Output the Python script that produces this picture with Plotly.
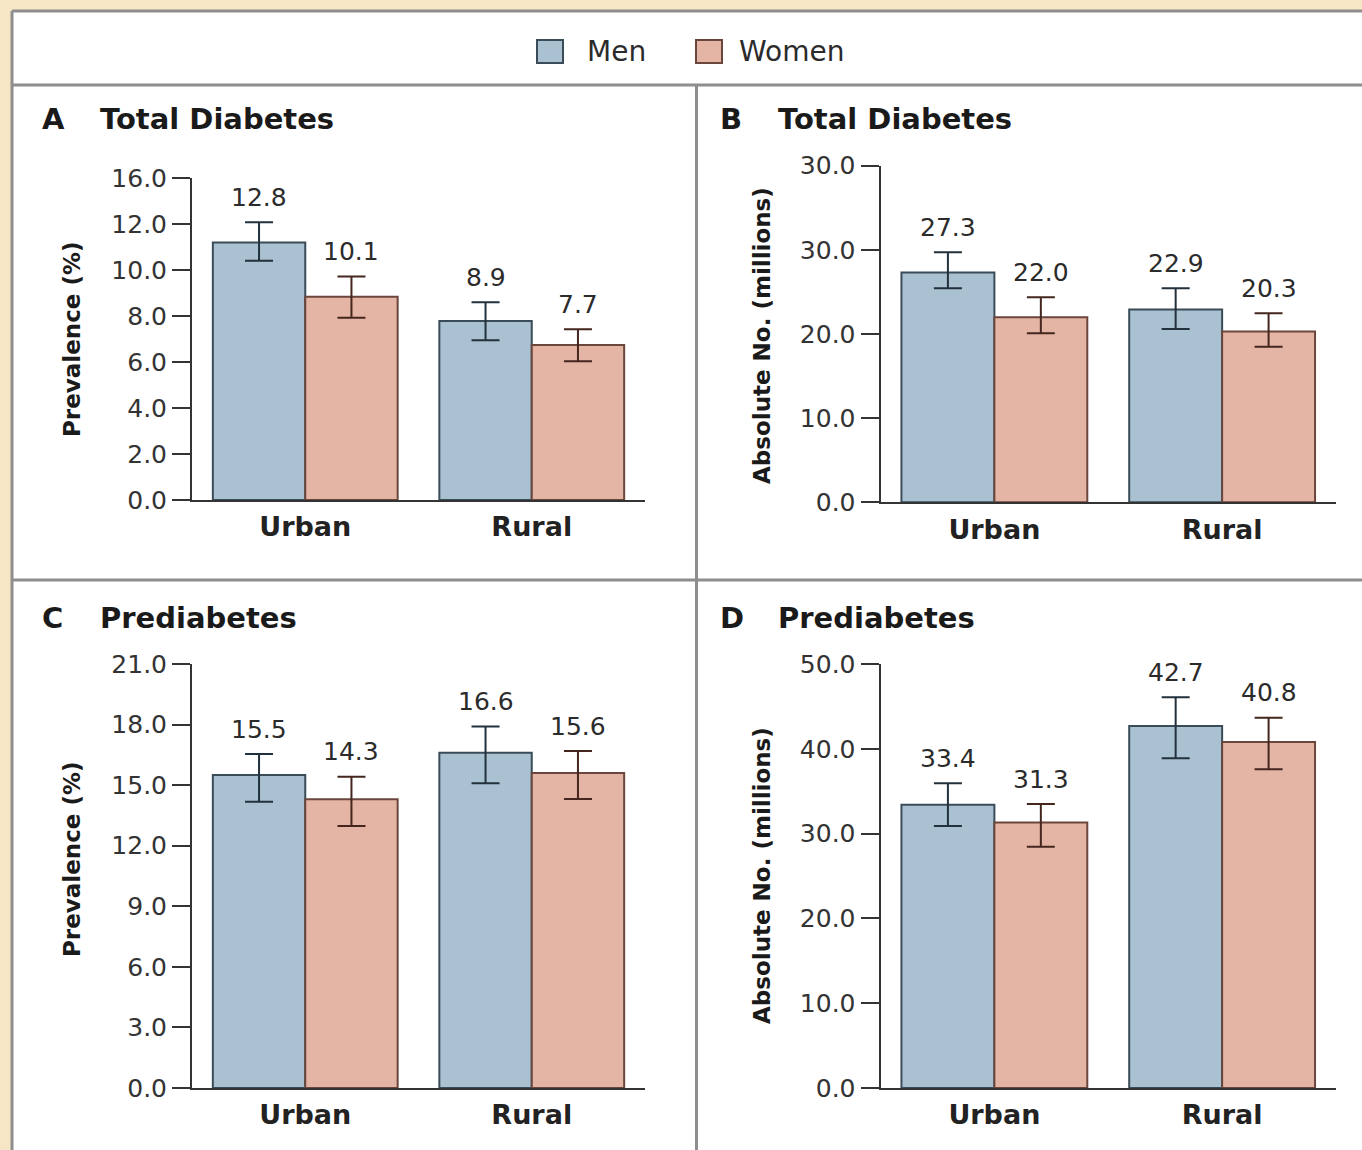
import numpy as np
import plotly.graph_objects as go

W, H = 1362, 1150

categories = ["Urban", "Rural"]
series = ["Men", "Women"]

# Panel A – Total diabetes, prevalence (%)
a_men = [12.8, 8.9]
a_women = [10.1, 7.7]
a_men_lo, a_men_hi = [11.89, 7.94], [13.80, 9.82]
a_women_lo, a_women_hi = [9.06, 6.90], [11.10, 8.48]
a_ymax = 16
a_ticktext = ["0.0", "2.0", "4.0", "6.0", "8.0", "10.0", "12.0", "16.0"]

# Panel B – Total diabetes, absolute number (millions)
b_men = [27.3, 22.9]
b_women = [22.0, 20.3]
b_men_lo, b_men_hi = [25.43, 20.60], [29.71, 25.43]
b_women_lo, b_women_hi = [20.08, 18.49], [24.36, 22.46]
b_ymax = 40
b_ticktext = ["0.0", "10.0", "20.0", "30.0", "30.0"]

# Panel C – Prediabetes, prevalence (%)
c_men = [15.5, 16.6]
c_women = [14.3, 15.6]
c_men_lo, c_men_hi = [14.18, 15.09], [16.54, 17.90]
c_women_lo, c_women_hi = [12.98, 14.31], [15.42, 16.69]
c_ymax = 21
c_ticktext = ["0.0", "3.0", "6.0", "9.0", "12.0", "15.0", "18.0", "21.0"]

# Panel D – Prediabetes, absolute number (millions)
d_men = [33.4, 42.7]
d_women = [31.3, 40.8]
d_men_lo, d_men_hi = [30.90, 38.88], [35.93, 46.07]
d_women_lo, d_women_hi = [28.46, 37.58], [33.49, 43.67]
d_ymax = 50
d_ticktext = ["0.0", "10.0", "20.0", "30.0", "40.0", "50.0"]

panel_letters = ["A", "B", "C", "D"]
panel_titles = ["Total Diabetes", "Total Diabetes", "Prediabetes", "Prediabetes"]
y_titles = ["Prevalence (%)", "Absolute No. (millions)", "Prevalence (%)", "Absolute No. (millions)"]

# ---------------------------------------------------------------
FONT = "DejaVu Sans"
MEN_FILL, MEN_LINE, MEN_ERR = "#a9c1d1", "#3a4c58", "#22313b"
WOM_FILL, WOM_LINE, WOM_ERR = "#e4b5a4", "#6a463c", "#44261e"
TXT = "#2b2b2b"
BORDER = "#8e8e8e"


def px_x(p):
    return p / W


def px_y(p):
    return 1 - p / H


panels = [
    dict(men=a_men, women=a_women, mlo=a_men_lo, mhi=a_men_hi, wlo=a_women_lo, whi=a_women_hi,
         ymax=a_ymax, tt=a_ticktext, xd=(192, 645), yd=(178, 500)),
    dict(men=b_men, women=b_women, mlo=b_men_lo, mhi=b_men_hi, wlo=b_women_lo, whi=b_women_hi,
         ymax=b_ymax, tt=b_ticktext, xd=(880.5, 1336), yd=(165.7, 502.3)),
    dict(men=c_men, women=c_women, mlo=c_men_lo, mhi=c_men_hi, wlo=c_women_lo, whi=c_women_hi,
         ymax=c_ymax, tt=c_ticktext, xd=(192, 645), yd=(664, 1088)),
    dict(men=d_men, women=d_women, mlo=d_men_lo, mhi=d_men_hi, wlo=d_women_lo, whi=d_women_hi,
         ymax=d_ymax, tt=d_ticktext, xd=(880.5, 1336), yd=(664, 1088)),
]

BARGAP = 0.184
OFF = (1 - BARGAP) / 4

fig = go.Figure()
annotations = []
layout_axes = {}
xpos = list(range(len(categories)))

for i, p in enumerate(panels):
    n = "" if i == 0 else str(i + 1)
    xa, ya = "x" + n, "y" + n
    for name, vals, lo, hi, fill, line, err in [
        (series[0], p["men"], p["mlo"], p["mhi"], MEN_FILL, MEN_LINE, MEN_ERR),
        (series[1], p["women"], p["wlo"], p["whi"], WOM_FILL, WOM_LINE, WOM_ERR),
    ]:
        fig.add_trace(go.Bar(
            x=xpos, y=vals, name=name, xaxis=xa, yaxis=ya, showlegend=False,
            marker=dict(color=fill, line=dict(color=line, width=2)),
            error_y=dict(type="data", symmetric=False,
                         array=[h - v for h, v in zip(hi, vals)],
                         arrayminus=[v - l for v, l in zip(vals, lo)],
                         color=err, thickness=2, width=14),
        ))
    # value labels
    for k in range(len(categories)):
        for off, vals, hi in [(-OFF, p["men"], p["mhi"]), (OFF, p["women"], p["whi"])]:
            annotations.append(dict(
                x=k + off, y=hi[k], xref=xa, yref=ya, text=f"{vals[k]:.1f}",
                showarrow=False, yshift=25, font=dict(family=FONT, size=25, color=TXT),
            ))
    tickvals = np.linspace(0, p["ymax"], len(p["tt"]))
    layout_axes["xaxis" + n] = dict(
        domain=[px_x(p["xd"][0]), px_x(p["xd"][1])], anchor=ya, automargin=False,
        range=[-0.5, 1.5], tickvals=xpos, ticktext=categories,
        ticks="outside", ticklen=2, tickcolor="rgba(0,0,0,0)",
        showline=True, linecolor="#333", linewidth=2, showgrid=False, zeroline=False,
        tickfont=dict(family=FONT, size=27, color="#222", weight="bold"),
        fixedrange=True,
    )
    layout_axes["yaxis" + n] = dict(
        domain=[px_y(p["yd"][1]), px_y(p["yd"][0])], anchor=xa, automargin=False,
        range=[0, p["ymax"]], tickvals=tickvals, ticktext=p["tt"],
        ticks="outside", ticklen=18, tickwidth=2, tickcolor="#333",
        showline=True, linecolor="#333", linewidth=2, showgrid=False, zeroline=False,
        tickfont=dict(family=FONT, size=25, color="#333"),
        fixedrange=True,
    )

# panel titles & y-axis titles
title_pos = [(40, 98, 119), (718, 776, 119), (40, 98, 618), (718, 776, 618)]
ytitle_pos = [(72, 340), (762, 336), (72, 860), (762, 876)]
for i in range(4):
    lx, tx, ty = title_pos[i]
    annotations.append(dict(x=px_x(lx), y=px_y(ty), xref="paper", yref="paper",
                            xanchor="left", yanchor="middle", showarrow=False,
                            text=f"<b>{panel_letters[i]}</b>",
                            font=dict(family=FONT, size=29, color="#1a1a1a")))
    annotations.append(dict(x=px_x(tx), y=px_y(ty), xref="paper", yref="paper",
                            xanchor="left", yanchor="middle", showarrow=False,
                            text=f"<b>{panel_titles[i]}</b>",
                            font=dict(family=FONT, size=29, color="#1a1a1a")))
    yx, yy = ytitle_pos[i]
    annotations.append(dict(x=px_x(yx), y=px_y(yy), xref="paper", yref="paper",
                            xanchor="center", yanchor="middle", showarrow=False,
                            textangle=-90, text=f"<b>{y_titles[i]}</b>",
                            font=dict(family=FONT, size=23, color="#1a1a1a")))

shapes = []
# white frame and borders
shapes.append(dict(type="rect", xref="paper", yref="paper", x0=px_x(12), x1=1.01,
                   y0=-0.01, y1=px_y(11), fillcolor="white", line=dict(width=0), layer="below"))
for (x0, y0, x1, y1) in [(12, 11, W, 11), (12, 11, 12, H), (12, 85, W, 85),
                         (12, 580, W, 580), (696.5, 85, 696.5, H)]:
    shapes.append(dict(type="line", xref="paper", yref="paper",
                       x0=px_x(x0), y0=px_y(y0), x1=px_x(x1), y1=px_y(y1),
                       line=dict(color=BORDER, width=3)))

# legend (manual, large swatches)
legend_items = [(series[0], MEN_FILL, MEN_LINE, 537, 585), (series[1], WOM_FILL, WOM_LINE, 696, 737)]
for name, fill, line, bx, tx in legend_items:
    shapes.append(dict(type="rect", xref="paper", yref="paper",
                       x0=px_x(bx), x1=px_x(bx + 26), y0=px_y(63), y1=px_y(40),
                       fillcolor=fill, line=dict(color=line, width=2)))
    annotations.append(dict(x=px_x(tx), y=px_y(51), xref="paper", yref="paper",
                            xanchor="left", yanchor="middle", showarrow=False, text=name,
                            font=dict(family=FONT, size=28, color=TXT)))

fig.update_layout(
    width=W, height=H, margin=dict(l=0, r=0, t=0, b=0, pad=0), autosize=False,
    paper_bgcolor="#f7e6c6", plot_bgcolor="rgba(0,0,0,0)",
    barmode="group", bargap=BARGAP, bargroupgap=0,
    showlegend=False, annotations=annotations, shapes=shapes,
    font=dict(family=FONT, color=TXT),
    **layout_axes,
)

fig.write_html("out.html")
